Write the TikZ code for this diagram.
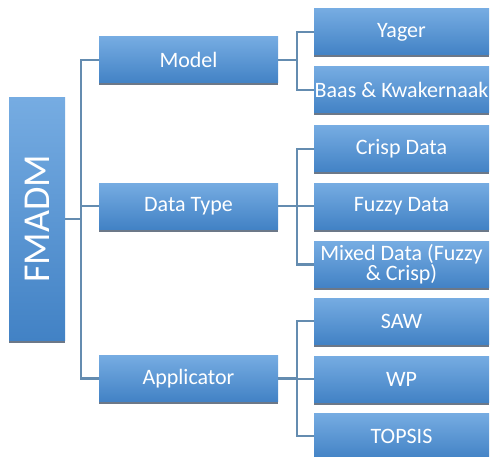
\documentclass[tikz,border=0pt]{standalone}
\usepackage{fontspec}
\setmainfont{Carlito}
\usetikzlibrary{shadows}
\definecolor{boxtop}{RGB}{118,172,226}
\definecolor{boxbot}{RGB}{66,130,197}
\definecolor{linecol}{RGB}{100,140,176}
\definecolor{shadecol}{RGB}{108,120,136}

\begin{document}
\begin{tikzpicture}[x=1pt,y=-1pt,
   box/.style={top color=boxtop, bottom color=boxbot, text=white, align=center, inner sep=0pt,
      font=\fontsize{22}{20}\selectfont,
      drop shadow={shadow xshift=0pt, shadow yshift=-2.5pt, fill=shadecol, opacity=1}},
   lvlone/.style={box, minimum width=179pt, minimum height=46pt},
   lvltwo/.style={box, minimum width=175pt, minimum height=46pt},
   conn/.style={draw=linecol, line width=2.2pt}]
   \useasboundingbox (0,0) rectangle (492,457);

   \node(FM)[box, minimum width=56pt, minimum height=242pt] at (37,219)
      {\rotatebox{90}{\fontsize{38}{38}\selectfont FMADM}};

   \node(MOD)[lvlone] at (188.5,60) {Model};
   \node(DT)[lvlone] at (188.5,206) {Data Type};
   \node(APP)[lvlone] at (188.5,378.5) {Applicator};

   \node(YAG)[lvltwo] at (401.5,32) {Yager};
   \node(BK)[lvltwo] at (401.5,90) {Baas \& Kwakernaak};
   \node(CD)[lvltwo] at (401.5,149) {Crisp Data};
   \node(FD)[lvltwo] at (401.5,206) {Fuzzy Data};
   \node(MD)[lvltwo] at (401.5,264.5) {Mixed Data (Fuzzy\\ \& Crisp)};
   \node(SAW)[lvltwo] at (401.5,321) {SAW};
   \node(WP)[lvltwo] at (401.5,379) {WP};
   \node(TOP)[lvltwo] at (401.5,436) {TOPSIS};

   \coordinate(T) at (81,0);
   \coordinate(B) at (297,0);

   \draw[conn] (MOD.west) -- (MOD.west -| T) |- (APP.west);
   \draw[conn] (DT.west) -- (DT.west -| T);
   \draw[conn] (FM.east) -- (FM.east -| T);

   \draw[conn] (MOD.east) -- (MOD.east -| B);
   \draw[conn] (YAG.west) -- (YAG.west -| B) |- (BK.west);

   \draw[conn] (DT.east) -- (DT.east -| B);
   \draw[conn] (CD.west) -- (CD.west -| B) |- (MD.west);
   \draw[conn] (FD.west) -- (FD.west -| B);

   \draw[conn] (APP.east) -- (APP.east -| B);
   \draw[conn] (SAW.west) -- (SAW.west -| B) |- (TOP.west);
   \draw[conn] (WP.west) -- (WP.west -| B);
\end{tikzpicture}
\end{document}
